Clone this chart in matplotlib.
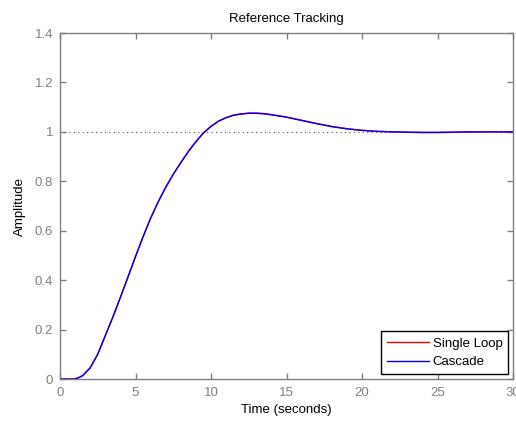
import matplotlib.pyplot as plt

plt.rcParams['font.family'] = ['Liberation Sans', 'DejaVu Sans']

# Tiempo (s) y respuestas al escalon
tiempo = [0, 0.9, 1.2, 1.5, 2.0, 2.5, 3.0, 3.5, 4.0, 4.5, 5.0, 5.5, 6.0, 6.5,
          7.0, 7.5, 8.0, 8.5, 9.0, 9.5, 10.0, 10.5, 11.0, 11.5, 12.0, 12.5,
          13.0, 13.5, 14.0, 15.0, 16.0, 17.0, 18.0, 19.0, 20.0, 21.0, 22.0,
          23.0, 24.0, 25.0, 26.0, 27.0, 28.0, 30.0]
lazo_simple = [0, 0, 0.005, 0.014, 0.046, 0.101, 0.176, 0.251, 0.331, 0.413,
               0.496, 0.576, 0.651, 0.717, 0.776, 0.829, 0.876, 0.921, 0.961,
               0.996, 1.023, 1.044, 1.058, 1.068, 1.073, 1.076, 1.076, 1.074,
               1.070, 1.060, 1.047, 1.034, 1.022, 1.013, 1.006, 1.002, 1.0,
               0.998, 0.997, 0.997, 0.998, 0.999, 1.0, 1.0]
cascada = [0, 0, 0.004, 0.013, 0.045, 0.100, 0.175, 0.250, 0.330, 0.412,
           0.495, 0.575, 0.650, 0.716, 0.775, 0.828, 0.875, 0.920, 0.960,
           0.995, 1.022, 1.043, 1.057, 1.067, 1.072, 1.075, 1.075, 1.073,
           1.069, 1.059, 1.046, 1.033, 1.021, 1.012, 1.006, 1.002, 1.0,
           0.999, 0.998, 0.998, 0.999, 1.0, 1.0, 1.0]

xticks = [0, 5, 10, 15, 20, 25, 30]
yticks = [0, 0.2, 0.4, 0.6, 0.8, 1.0, 1.2, 1.4]
ytick_labels = ['0', '0.2', '0.4', '0.6', '0.8', '1', '1.2', '1.4']

gris = '#808080'
fs = 9.5

fig = plt.figure(figsize=(5.16, 4.21), dpi=100)
ax = fig.add_axes([60 / 516, 42 / 421, 453 / 516, 346 / 421])

# referencia unitaria
ax.plot([0, 30], [1, 1], color='#555555', linestyle=(0, (1, 3)), linewidth=0.8)

ax.plot(tiempo, lazo_simple, color='red', linewidth=1.0, label='Single Loop')
ax.plot(tiempo, cascada, color='blue', linewidth=1.0, label='Cascade')

ax.set_xlim(0, 30)
ax.set_ylim(0, 1.4)
ax.set_xticks(xticks)
ax.set_xticklabels([str(v) for v in xticks])
ax.set_yticks(yticks)
ax.set_yticklabels(ytick_labels)

ax.tick_params(direction='in', length=4.5, width=1, colors=gris,
               labelsize=fs, top=True, right=True, pad=5)
ax.tick_params(axis='x', pad=6)
for lab in ax.get_xticklabels() + ax.get_yticklabels():
    lab.set_color(gris)
for s in ax.spines.values():
    s.set_color(gris)
    s.set_linewidth(1)

ax.set_title('Reference Tracking', fontsize=fs, pad=8)
ax.set_xlabel('Time (seconds)', fontsize=fs, labelpad=3)
ax.set_ylabel('Amplitude', fontsize=fs, labelpad=6)

leg = ax.legend(loc='lower right', fontsize=fs, fancybox=False, framealpha=1,
                edgecolor='black', borderaxespad=0.35, handlelength=3.2,
                handletextpad=0.3, borderpad=0.45, labelspacing=0.5)
leg.get_frame().set_linewidth(1)

fig.savefig('out.png', dpi=100)
